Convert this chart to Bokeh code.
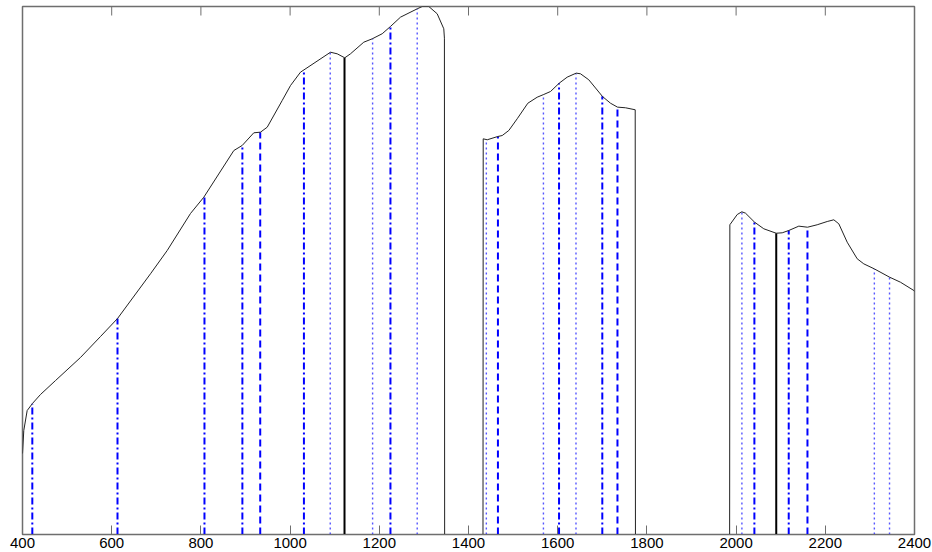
import numpy as np
from bokeh.plotting import figure
from bokeh.models import Range1d, FixedTicker, ColumnDataSource
from bokeh.embed import file_html
from bokeh.resources import INLINE

# Reflectance spectrum (wavelength in nm), water-absorption bands set to zero
wavelength = [
    400, 402.9, 410.5, 422.4, 440.4, 474, 530, 574.9, 613, 687, 724.4, 776.7,
    806.5, 873.8, 892.6, 918.6, 933.6, 948.7, 982.3, 1001, 1023.3, 1090.6,
    1105.6, 1122.6, 1135.4, 1165.2, 1184.1, 1206.5, 1225.1, 1247.5, 1285,
    1296.2, 1311, 1329.8, 1344.6, 1346, 1346.5,
    1432.5, 1433, 1442, 1465.7, 1475.6, 1490.4, 1509.2, 1533, 1554, 1568.8,
    1583.9, 1603.4, 1621.3, 1641.5, 1651.1, 1669.7, 1700.4, 1718.4, 1734.1,
    1752, 1773.8, 1774.3,
    1985.5, 1986, 2002.5, 2012.8, 2021.1, 2041.3, 2062.1, 2089.9, 2103.4,
    2118.2, 2140.6, 2160.1, 2181.8, 2204.3, 2219.1, 2230.3, 2249.1, 2271.5,
    2286.3, 2309.6, 2344, 2368.6, 2398.4, 2400,
]
reflectance = [
    0.0767, 0.0985, 0.1174, 0.1241, 0.1326, 0.1458, 0.1676, 0.1875, 0.2045,
    0.2469, 0.2689, 0.3040, 0.3194, 0.3636, 0.3684, 0.3804, 0.3810, 0.3857,
    0.4110, 0.4252, 0.4378, 0.4567, 0.4552, 0.4514, 0.4552, 0.4662, 0.4694,
    0.4742, 0.4811, 0.4899, 0.4978, 0.5000, 0.5000, 0.4931, 0.4789, 0.4700, 0.0,
    0.0, 0.3747, 0.3738, 0.3769, 0.3778, 0.3826, 0.3937, 0.4084, 0.4141,
    0.4167, 0.4195, 0.4274, 0.4331, 0.4369, 0.4363, 0.4306, 0.4148, 0.4084,
    0.4047, 0.4041, 0.4022, 0.0,
    0.0, 0.2933, 0.3030, 0.3056, 0.3043, 0.2958, 0.2895, 0.2853, 0.2857,
    0.2879, 0.2920, 0.2910, 0.2933, 0.2964, 0.2980, 0.2942, 0.2768, 0.2611,
    0.2563, 0.2516, 0.2437, 0.2389, 0.2311, 0.2301,
]

# Selected band positions (nm), grouped by marker style
bands_dashdot = [422, 613, 808, 893, 1031, 1225, 1603, 1700, 2041, 2118]
bands_dashed = [933, 1466, 1734, 2160]
bands_dotted = [1090, 1185, 1285, 1440, 1568, 1641, 2013, 2310, 2344]
bands_solid = [1122, 2090]

x_ticks = [400, 600, 800, 1000, 1200, 1400, 1600, 1800, 2000, 2200, 2400]
y_top = 0.5

p = figure(width=932, height=552, output_backend="svg", toolbar_location=None,
           x_range=Range1d(400, 2400), y_range=Range1d(0, y_top),
           min_border_left=22, min_border_right=18, min_border_top=6,
           min_border_bottom=18)
p.background_fill_color = "white"
p.border_fill_color = "white"
p.grid.visible = False
p.outline_line_color = "#6e6e6e"
p.outline_line_width = 1.5
p.yaxis.visible = False

xa = p.xaxis[0]
xa.ticker = FixedTicker(ticks=x_ticks)
xa.major_tick_in = 9
xa.major_tick_out = 0
xa.minor_tick_line_color = None
xa.axis_line_color = "#6e6e6e"
xa.major_tick_line_color = "#6e6e6e"
xa.major_label_text_font = "Liberation Sans"
xa.major_label_text_font_size = "15px"
xa.major_label_text_color = "black"
xa.major_label_standoff = 3

# mirrored tick marks along the top edge of the box
p.ray(x=x_ticks, y=[y_top] * len(x_ticks), length=9, length_units="screen",
      angle=-np.pi / 2, line_color="#6e6e6e", line_width=1)

wl = np.array(wavelength)
rf = np.array(reflectance)


def band_source(bands):
    b = np.array(bands, dtype=float)
    return ColumnDataSource(dict(x=b, y0=np.zeros_like(b), y1=np.interp(b, wl, rf)))


p.segment("x", "y0", "x", "y1", source=band_source(bands_dotted),
          line_color="#2a2aff", line_width=1.4, line_dash="2 3", line_alpha=0.8)
p.segment("x", "y0", "x", "y1", source=band_source(bands_dashdot),
          line_color="#0000ff", line_width=2, line_dash="7 3 2 3")
p.segment("x", "y0", "x", "y1", source=band_source(bands_dashed),
          line_color="#0000ff", line_width=2, line_dash="7 4")
p.segment("x", "y0", "x", "y1", source=band_source(bands_solid),
          line_color="black", line_width=2)

p.line(wl, rf, line_color="#222222", line_width=1)

open("out.html", "w").write(file_html(p, INLINE))
